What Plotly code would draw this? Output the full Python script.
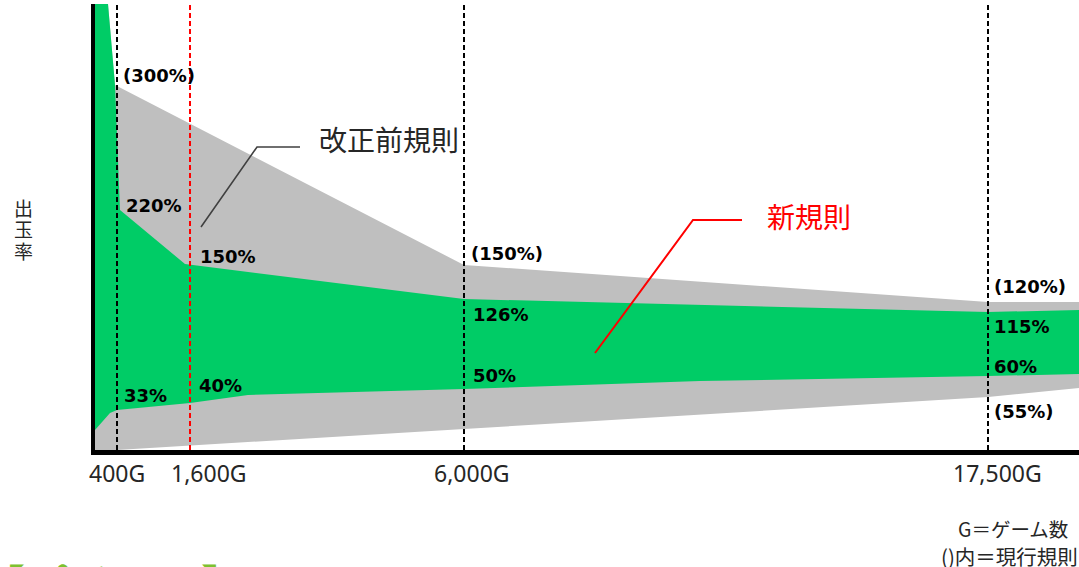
import plotly.graph_objects as go

# ---- data (schematic chart units: x = position along game axis, y = height) ----
game_labels = ["400G", "1,600G", "6,000G", "17,500G"]
game_pos = [22, 95, 369, 893]          # where each game count sits on the schematic x axis
game_label_pos = [22, 114, 377, 902]
game_line_colors = ["black", "red", "black", "black"]

# old rules (gray band)
old_upper_x = [0, 13, 20, 369, 893, 984]
old_upper_y = [446, 446, 365, 185, 148, 148]
old_lower_x = [984, 893, 369, 22, 0]
old_lower_y = [62, 53, 21, 0, 0]

# new rules (green band)
new_upper_x = [0, 13, 20, 25, 90, 369, 893, 984]
new_upper_y = [446, 446, 365, 240, 186, 151, 138, 140]
new_lower_x = [984, 893, 605, 369, 153, 95, 22, 15, 0]
new_lower_y = [76, 74, 69, 61, 55, 47, 40, 37, 20]

pct_text = ["(300%)", "220%", "150%", "(150%)", "126%", "50%", "40%", "33%",
            "(120%)", "115%", "60%", "(55%)"]
pct_x = [26, 29, 103, 374, 376, 376, 102, 27, 897, 897, 897, 897]
pct_y = [375, 245, 194, 197, 136, 75, 65, 55, 164, 124, 84, 39]

old_label = "改正前規則"
new_label = "新規則"
old_leader_x = [106, 162, 205]
old_leader_y = [223, 303, 303]
new_leader_x = [500, 598, 647]
new_leader_y = [97, 230, 230]

y_title_chars = ["出", "玉", "率"]
y_title_y = [243, 221.5, 200]
notes = ["G＝ゲーム数", "()内＝現行規則"]

X_MAX = 984
Y_MAX = 446
GREEN = "#00CC66"
GRAY = "#BFBFBF"
JP = "Noto Sans CJK JP"


def px(v):   # schematic x -> paper fraction (for labels outside the plot area)
    return v / X_MAX


def py(v):   # schematic y -> paper fraction
    return v / Y_MAX


fig = go.Figure()

fig.add_trace(go.Scatter(
    x=old_upper_x + old_lower_x, y=old_upper_y + old_lower_y,
    fill="toself", fillcolor=GRAY, mode="lines", line=dict(width=0),
    hoverinfo="skip", showlegend=False))
fig.add_trace(go.Scatter(
    x=new_upper_x + new_lower_x, y=new_upper_y + new_lower_y,
    fill="toself", fillcolor=GREEN, mode="lines", line=dict(width=0),
    hoverinfo="skip", showlegend=False))

# leader lines
fig.add_trace(go.Scatter(x=old_leader_x, y=old_leader_y, mode="lines",
                         line=dict(color="#404040", width=1.6),
                         hoverinfo="skip", showlegend=False, cliponaxis=False))
fig.add_trace(go.Scatter(x=new_leader_x, y=new_leader_y, mode="lines",
                         line=dict(color="red", width=2),
                         hoverinfo="skip", showlegend=False, cliponaxis=False))

shapes = []
for gx, gc in zip(game_pos, game_line_colors):
    shapes.append(dict(type="line", xref="x", yref="y", x0=gx, x1=gx, y0=0, y1=Y_MAX,
                       line=dict(color=gc, width=2, dash="5px,3px"), layer="above"))

ann = []
for t, x, y in zip(pct_text, pct_x, pct_y):
    ann.append(dict(x=x, y=y, xref="x", yref="y", text="<b>" + t + "</b>",
                    showarrow=False, xanchor="left", yanchor="middle",
                    font=dict(family="DejaVu Sans", size=18, color="black")))
for t, x in zip(game_labels, game_label_pos):
    ann.append(dict(x=px(x), y=py(-23), xref="paper", yref="paper", text=t,
                    showarrow=False, xanchor="center", yanchor="middle",
                    font=dict(family="Noto Sans", size=23, color="#262626")))
for c, y in zip(y_title_chars, y_title_y):
    ann.append(dict(x=px(-72), y=py(y), xref="paper", yref="paper", text=c,
                    showarrow=False, xanchor="center", yanchor="middle",
                    font=dict(family=JP, size=19, color="#262626")))
ann.append(dict(x=294, y=311, xref="x", yref="y", text=old_label, showarrow=False,
                xanchor="center", yanchor="middle",
                font=dict(family=JP, size=28, color="#262626")))
ann.append(dict(x=714, y=234, xref="x", yref="y", text=new_label, showarrow=False,
                xanchor="center", yanchor="middle",
                font=dict(family=JP, size=28, color="red")))
ann.append(dict(x=px(861), y=py(-78), xref="paper", yref="paper", text=notes[0],
                showarrow=False, xanchor="left", yanchor="middle",
                font=dict(family=JP, size=19.5, color="#262626")))
ann.append(dict(x=px(844), y=py(-106), xref="paper", yref="paper", text=notes[1],
                showarrow=False, xanchor="left", yanchor="middle",
                font=dict(family=JP, size=20.5, color="#262626")))
# section headings cut by the frame
ann.append(dict(x=px(-116), y=py(-99), xref="paper", yref="paper",
                text="<b>【パチンコ】</b>", showarrow=False, xanchor="left", yanchor="top",
                font=dict(family=JP, size=44, color="#7DC12F")))
ann.append(dict(x=px(-116), y=py(443), xref="paper", yref="paper",
                text="<b>【パチスロ】</b>", showarrow=False, xanchor="left", yanchor="bottom",
                font=dict(family=JP, size=44, color="#1FB14A")))

fig.update_layout(
    width=1079, height=567,
    margin=dict(l=95, r=0, t=4, b=117),
    paper_bgcolor="white", plot_bgcolor="white",
    shapes=shapes, annotations=ann, showlegend=False,
    xaxis=dict(range=[0, X_MAX], showgrid=False, zeroline=False, showticklabels=False,
               ticks="", showline=True, linewidth=5, linecolor="black", fixedrange=True),
    yaxis=dict(range=[0, Y_MAX], showgrid=False, zeroline=False, showticklabels=False,
               ticks="", showline=True, linewidth=4, linecolor="black", fixedrange=True),
)

fig.write_html("out.html", config={"displayModeBar": False},
               post_script="document.body.style.margin='0px';document.body.style.overflow='hidden';")
